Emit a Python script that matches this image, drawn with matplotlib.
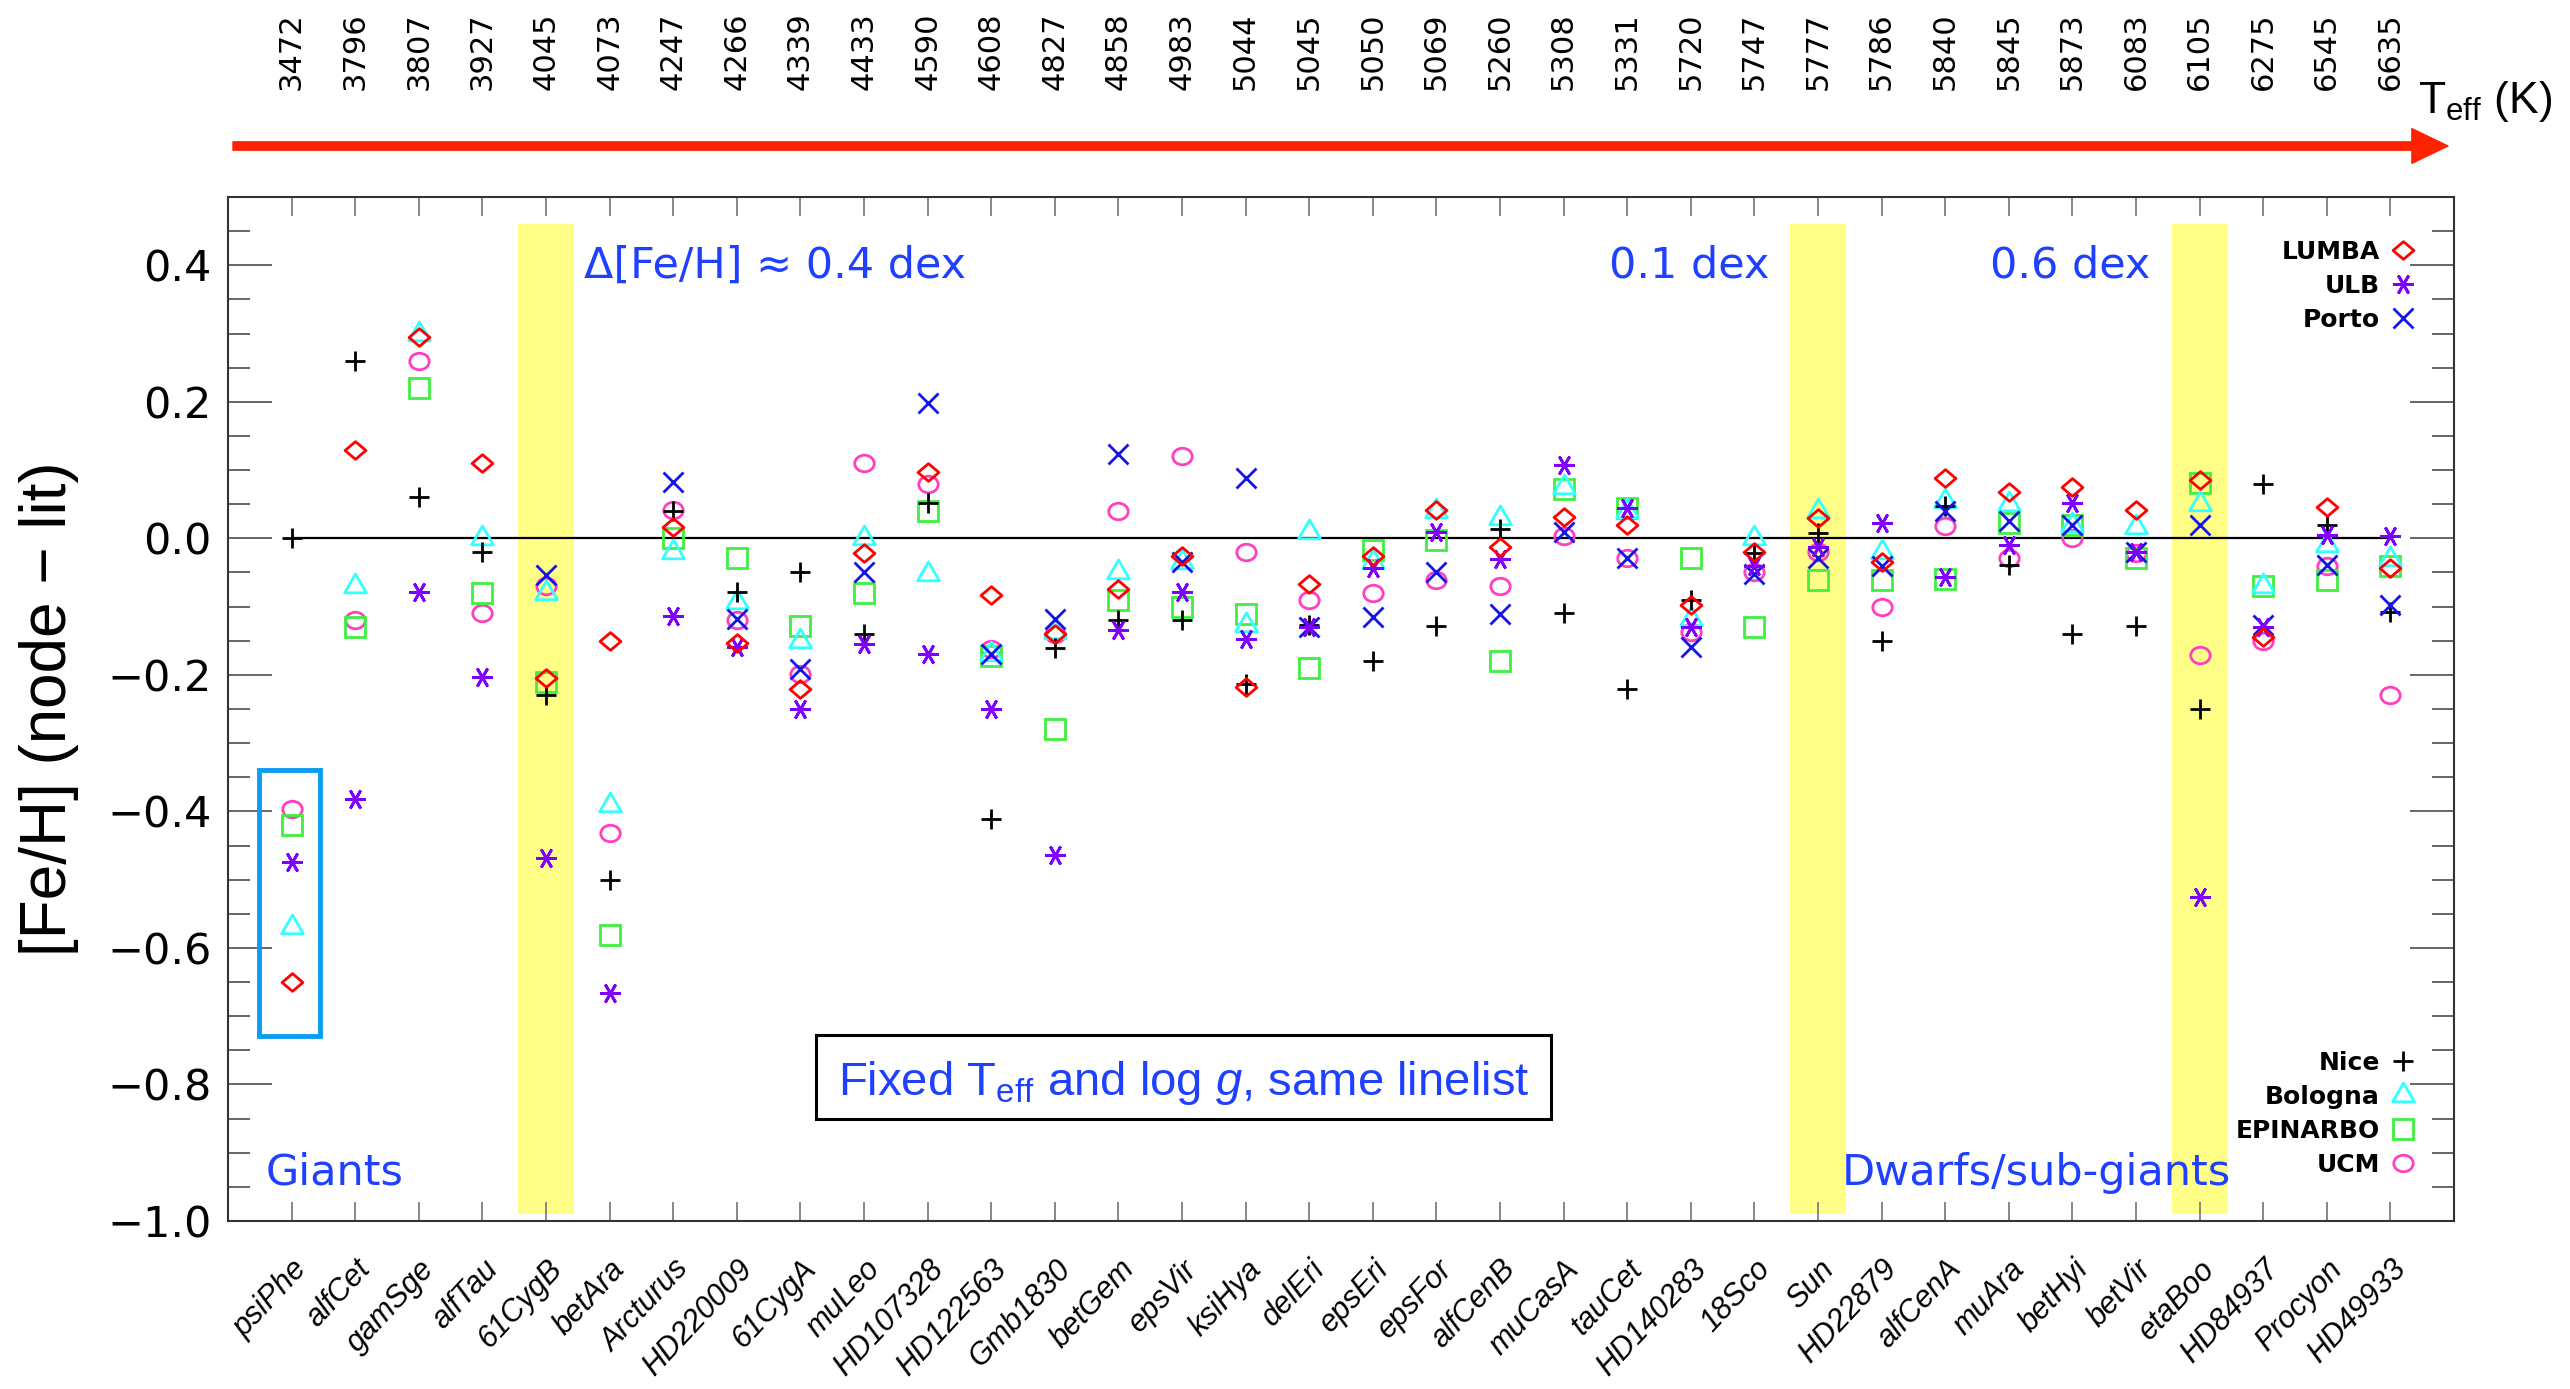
"""[Fe/H] node-minus-literature differences for the benchmark stars, ordered by Teff."""
import numpy as np
import matplotlib
matplotlib.use("Agg")
import matplotlib.pyplot as plt
import matplotlib.transforms as mtransforms
from matplotlib.path import Path
from matplotlib.patches import Rectangle
from matplotlib.lines import Line2D
from matplotlib.ticker import MultipleLocator, FuncFormatter

nan = np.nan

stars = ["psiPhe", "alfCet", "gamSge", "alfTau", "61CygB", "betAra", "Arcturus",
         "HD220009", "61CygA", "muLeo", "HD107328", "HD122563", "Gmb1830", "betGem",
         "epsVir", "ksiHya", "delEri", "epsEri", "epsFor", "alfCenB", "muCasA",
         "tauCet", "HD140283", "18Sco", "Sun", "HD22879", "alfCenA", "muAra",
         "betHyi", "betVir", "etaBoo", "HD84937", "Procyon", "HD49933"]
teff = [3472, 3796, 3807, 3927, 4045, 4073, 4247, 4266, 4339, 4433, 4590, 4608,
        4827, 4858, 4983, 5044, 5045, 5050, 5069, 5260, 5308, 5331, 5720, 5747,
        5777, 5786, 5840, 5845, 5873, 6083, 6105, 6275, 6545, 6635]

lumba = [-0.65, 0.13, 0.295, 0.11, -0.205, -0.15, 0.017, -0.154, -0.22, -0.022,
         0.097, -0.083, -0.14, -0.074, -0.026, -0.218, -0.067, -0.026, 0.041, -0.012,
         0.031, 0.019, -0.098, -0.02, 0.03, -0.034, 0.088, 0.068, 0.075, 0.042,
         0.085, -0.144, 0.046, -0.044]
ulb = [-0.474, -0.382, -0.078, -0.203, -0.468, -0.666, -0.114, -0.159, -0.25, -0.155,
       -0.17, -0.25, -0.464, -0.134, -0.078, -0.148, -0.13, -0.044, 0.01, -0.031,
       0.108, 0.044, -0.13, -0.04, -0.013, 0.023, -0.056, -0.01, 0.052, -0.02,
       -0.526, -0.13, 0.005, 0.004]
porto = [nan, nan, nan, nan, -0.054, nan, 0.083, -0.118, -0.191, -0.049,
         0.198, -0.17, -0.118, 0.123, -0.034, 0.088, -0.13, -0.115, -0.049, -0.111,
         0.01, -0.029, -0.159, -0.052, -0.029, -0.04, 0.04, 0.025, 0.02, -0.02,
         0.019, -0.127, -0.039, -0.098]
nice = [0.0, 0.26, 0.06, -0.02, -0.23, -0.50, 0.04, -0.078, -0.049, -0.14,
        0.052, -0.411, -0.16, -0.12, -0.12, -0.213, -0.127, -0.179, -0.129, 0.013,
        -0.11, -0.221, -0.09, -0.022, 0.008, -0.15, 0.047, -0.039, -0.14, -0.129,
        -0.25, 0.08, 0.02, -0.108]
bologna = [-0.57, -0.07, 0.30, 0.0, -0.08, -0.39, -0.02, -0.093, -0.15, 0.0,
           -0.052, -0.17, -0.137, -0.05, -0.035, -0.127, 0.01, -0.035, 0.04, 0.03,
           0.075, 0.04, -0.118, 0.0, 0.04, -0.02, 0.054, 0.05, 0.02, 0.017,
           0.05, -0.07, -0.01, -0.03]
epinarbo = [-0.42, -0.13, 0.22, -0.08, -0.21, -0.581, 0.0, -0.029, -0.129, -0.08,
            0.04, -0.172, -0.279, -0.09, -0.10, -0.111, -0.19, -0.017, -0.002, -0.18,
            0.072, 0.044, -0.029, -0.13, -0.061, -0.061, -0.059, 0.022, 0.02, -0.029,
            0.081, -0.07, -0.061, -0.041]
ucm = [-0.397, -0.12, 0.26, -0.11, -0.07, -0.431, 0.041, -0.12, -0.199, 0.11,
       0.08, -0.162, -0.14, 0.04, 0.121, -0.02, -0.09, -0.08, -0.061, -0.07,
       0.003, -0.029, -0.137, -0.049, -0.02, -0.10, 0.018, -0.029, 0.0, -0.022,
       -0.171, -0.15, -0.041, -0.23]

highlight = ["61CygB", "Sun", "etaBoo"]

plt.rcParams["font.family"] = "DejaVu Sans"
plt.rcParams["mathtext.fontset"] = "custom"
plt.rcParams["mathtext.rm"] = "Liberation Sans"
plt.rcParams["mathtext.it"] = "Liberation Sans:italic"

BLUE_TXT = "#2040FF"

# marker shapes (IDL-like)
diamond = Path([(-1, 0), (0, 0.85), (1, 0), (0, -0.85), (-1, 0)], closed=True)
triangle = Path([(-1, -0.58), (1, -0.58), (0, 1.15), (-1, -0.58)], closed=True)
circ = Path.unit_circle()
ellipse = Path(circ.vertices * [1.0, 0.85], circ.codes)

series = [
    ("LUMBA", lumba, diamond, "#FF0000", 15),
    ("ULB", ulb, (6, 2, 90), "#8000FF", 15),
    ("Porto", porto, "x", "#1414E6", 14),
    ("Nice", nice, "+", "black", 14),
    ("Bologna", bologna, triangle, "#33FFFF", 18),
    ("EPINARBO", epinarbo, "s", "#40F040", 14),
    ("UCM", ucm, ellipse, "#FF3FBF", 14),
]
draw_order = ["UCM", "EPINARBO", "Bologna", "Nice", "Porto", "ULB", "LUMBA"]

x = np.arange(len(stars))

fig = plt.figure(figsize=(25.7, 13.89), dpi=100)
ax = fig.add_axes([228 / 2570, 168 / 1389, 2226 / 2570, 1024 / 1389])

# highlighted stars
for name in highlight:
    i = stars.index(name)
    ax.fill_between([i - 0.44, i + 0.44], -0.99, 0.46, color="#FFFF88", lw=0, zorder=0)

ax.hlines(0, x[0], x[-1], color="black", lw=1.6, zorder=1)

handles = {}
spec = {s[0]: s for s in series}
for name in draw_order:
    _, vals, mk, col, ms = spec[name]
    ax.plot(x, vals, linestyle="none", marker=mk, ms=ms, mfc="none", mec=col,
            mew=2.0, zorder=3)
for name, _, mk, col, ms in series:
    handles[name] = Line2D([], [], linestyle="none", marker=mk, ms=ms, mfc="none",
                           mec=col, mew=2.0)

leg_kw = dict(frameon=False, markerfirst=False, handlelength=1.0, handletextpad=0.4,
              labelspacing=0.4, borderpad=0, borderaxespad=0,
              prop={"size": 18, "weight": "bold"})
top_names = ["LUMBA", "ULB", "Porto"]
bot_names = ["Nice", "Bologna", "EPINARBO", "UCM"]
leg1 = ax.legend([handles[n] for n in top_names], top_names, loc="upper right",
                 bbox_to_anchor=(0.9825, 0.958), **leg_kw)
ax.add_artist(leg1)
ax.legend([handles[n] for n in bot_names], bot_names, loc="lower right",
          bbox_to_anchor=(0.9825, 0.043), **leg_kw)

# giants box around psiPhe
ax.add_patch(Rectangle((-0.52, -0.729), 0.96, 0.39, fill=False, ec="#0A9BF5", lw=3.5,
                       zorder=4))

# annotations
ax.text(4.6, 0.382, "Δ[Fe/H] ≈ 0.4 dex", color=BLUE_TXT, fontsize=31, ha="left",
        va="baseline")
ax.text(23.24, 0.382, "0.1 dex", color=BLUE_TXT, fontsize=31, ha="right", va="baseline")
ax.text(26.7, 0.382, "0.6 dex", color=BLUE_TXT, fontsize=31, ha="left", va="baseline")
ax.text(-0.41, -0.947, "Giants", color=BLUE_TXT, fontsize=31, ha="left", va="baseline")
ax.text(30.49, -0.947, "Dwarfs/sub-giants", color=BLUE_TXT, fontsize=31, ha="right",
        va="baseline")
ax.add_patch(Rectangle((8.24, -0.851), 11.56, 0.123, fill=False, ec="black", lw=2.2,
                       zorder=4))
ax.text(14.03, -0.816, r"Fixed T$_{\rm eff}$ and log $g$, same linelist", color=BLUE_TXT,
        fontsize=34, family="Liberation Sans", ha="center", va="baseline")


def ytick_fmt(v, pos):
    v = round(v, 2)
    if abs(v) < 1e-9:
        v = 0.0
    return f"{v:.1f}".replace("-", "\u2212")


# axes styling
ax.set_xlim(-1, len(stars))
ax.set_ylim(-1.0, 0.5)
ax.set_xticks(x)
ax.set_xticklabels(stars, rotation=47, ha="right", va="top", rotation_mode="anchor",
                   fontsize=22, fontstyle="italic", family="Liberation Sans")
ax.set_yticks(np.arange(-1.0, 0.41, 0.2))
ax.yaxis.set_minor_locator(MultipleLocator(0.05))
ax.yaxis.set_major_formatter(FuncFormatter(ytick_fmt))
ax.tick_params(axis="y", which="major", direction="in", length=32, width=1.2,
               left=True, right=True, labelsize=31, pad=12, color="0.3")
ax.tick_params(axis="y", which="minor", direction="in", length=16, width=1.2,
               left=True, right=True, color="0.3")
ax.tick_params(axis="x", which="major", direction="in", length=14, width=1.2,
               top=True, bottom=True, pad=24, color="0.45")
for sp in ax.spines.values():
    sp.set_linewidth(1.5)
    sp.set_color("0.2")

ax.set_ylabel("[Fe/H] (node − lit)", fontsize=46, family="Liberation Sans")
ax.yaxis.set_label_coords(-0.067, 0.5)

# Teff scale on top
trans = mtransforms.blended_transform_factory(ax.transData, fig.transFigure)
for xi, t in zip(x, teff):
    ax.text(xi, 1 - 90 / 1389, str(t), transform=trans, rotation=90, ha="center",
            va="bottom", fontsize=22)
ax.annotate("", xy=(2448 / 2570, 1 - 146 / 1389), xytext=(233 / 2570, 1 - 146 / 1389),
            xycoords="figure fraction", textcoords="figure fraction",
            arrowprops=dict(arrowstyle="simple,head_length=1.3,head_width=1.25,tail_width=0.3",
                            color="#FF2200", shrinkA=0, shrinkB=0, mutation_scale=20))
fig.text(2418 / 2570, 1 - 113 / 1389, r"T$_{\rm eff}$ (K)", fontsize=32,
         family="Liberation Sans", ha="left", va="baseline")

fig.savefig("out.png", dpi=100)
